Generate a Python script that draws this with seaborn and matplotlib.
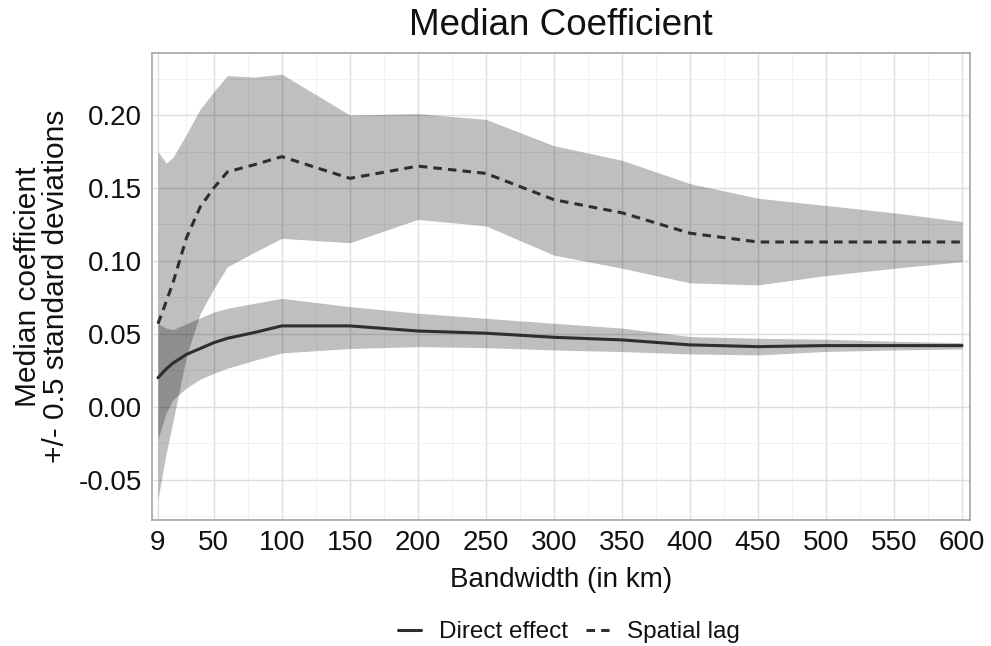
import numpy as np
import pandas as pd
import matplotlib
matplotlib.use("Agg")
import matplotlib.pyplot as plt
import seaborn as sns
from matplotlib.ticker import FixedLocator

# bandwidths (km) at which the models were estimated
bandwidth = [9, 15, 20, 30, 40, 50, 60, 80, 100, 150, 200, 250, 300, 350,
             400, 450, 500, 550, 600]

# direct effect: median and +/- 0.5 sd
direct = [0.020, 0.026, 0.030, 0.036, 0.040, 0.044, 0.047, 0.051, 0.0555,
          0.0555, 0.052, 0.0505, 0.0477, 0.0459, 0.0425, 0.0413, 0.042,
          0.042, 0.042]
direct_hi = [0.057, 0.054, 0.053, 0.057, 0.061, 0.065, 0.0676, 0.071, 0.0744,
             0.0687, 0.0642, 0.0607, 0.0573, 0.054, 0.0482, 0.047, 0.0464,
             0.045, 0.044]
direct_lo = [-0.022, -0.004, 0.005, 0.013, 0.019, 0.023, 0.0265, 0.032, 0.037,
             0.040, 0.0413, 0.0406, 0.039, 0.0379, 0.0363, 0.0356, 0.038,
             0.039, 0.0397]

# spatial lag: median and +/- 0.5 sd
lag = [0.057, 0.072, 0.085, 0.116, 0.137, 0.150, 0.161, 0.166, 0.1715,
       0.1566, 0.165, 0.160, 0.142, 0.133, 0.119, 0.113, 0.113, 0.113, 0.113]
lag_hi = [0.175, 0.167, 0.171, 0.187, 0.204, 0.216, 0.227, 0.226, 0.228,
          0.200, 0.201, 0.197, 0.179, 0.169, 0.153, 0.143, 0.138, 0.133, 0.127]
lag_lo = [-0.063, -0.032, -0.010, 0.035, 0.064, 0.081, 0.096, 0.106, 0.1155,
          0.1125, 0.1285, 0.124, 0.104, 0.095, 0.085, 0.0836, 0.090, 0.095,
          0.0995]

x_ticks = [9, 50, 100, 150, 200, 250, 300, 350, 400, 450, 500, 550, 600]
y_ticks = [-0.05, 0.00, 0.05, 0.10, 0.15, 0.20]

df = pd.DataFrame({
    "bandwidth": bandwidth * 2,
    "coef": direct + lag,
    "lo": direct_lo + lag_lo,
    "hi": direct_hi + lag_hi,
    "effect": ["Direct effect"] * len(bandwidth) + ["Spatial lag"] * len(bandwidth),
})

sns.set_theme(style="whitegrid")
plt.rcParams["font.family"] = ["Liberation Sans", "DejaVu Sans"]

LINE = "#2e2e2e"
LW = 2.2
DASH = (2.8, 2.0)

fig = plt.figure(figsize=(9.91, 6.46), dpi=100)
ax = fig.add_axes([152 / 991, (646 - 520) / 646, (970 - 152) / 991, (520 - 53) / 646])

for eff, sub in df.groupby("effect"):
    ax.fill_between(sub["bandwidth"], sub["lo"], sub["hi"], color="black",
                    alpha=0.25, linewidth=0, zorder=2)

sns.lineplot(data=df, x="bandwidth", y="coef", style="effect",
             dashes={"Direct effect": "", "Spatial lag": DASH},
             color=LINE, linewidth=LW, ax=ax, zorder=3, legend=False)

ax.set_xlim(4.6, 605.8)
ax.set_ylim(-0.0775, 0.2425)
ax.set_xticks(x_ticks)
ax.set_xticklabels([str(t) for t in x_ticks])
ax.set_yticks(y_ticks)
ax.set_yticklabels([f"{t:.2f}" for t in y_ticks])
ax.xaxis.set_minor_locator(FixedLocator([(a + b) / 2 for a, b in zip(x_ticks[:-1], x_ticks[1:])]))
ax.yaxis.set_minor_locator(FixedLocator([-0.075, -0.025, 0.025, 0.075, 0.125, 0.175, 0.225]))

ax.grid(True, which="major", color="#dedede", linewidth=1.0)
ax.grid(True, which="minor", color="#efefef", linewidth=0.6)
ax.set_axisbelow(True)
for s in ax.spines.values():
    s.set_color("#a6a6a6")
    s.set_linewidth(1.2)
ax.tick_params(which="major", length=4, width=1, color="#a6a6a6",
               labelsize=20, labelcolor="#111111", pad=3)
ax.tick_params(which="minor", length=0)

ax.set_xlabel("Bandwidth (in km)", fontsize=20, color="#111111", labelpad=8)
ax.set_ylabel("Median coefficient\n+/- 0.5 standard deviations", fontsize=21.5,
              color="#111111", linespacing=1.0)
ax.yaxis.set_label_coords(-0.1, 0.5)
ax.set_title("Median Coefficient", fontsize=26.5, color="#111111", pad=13)

handles = [plt.Line2D([], [], color=LINE, lw=LW),
           plt.Line2D([], [], color=LINE, lw=LW, dashes=DASH)]
fig.legend(handles, ["Direct effect", "Spatial lag"], loc="center",
           bbox_to_anchor=(569 / 991, 1 - 632 / 646), ncol=2, frameon=False,
           fontsize=17.5, handlelength=0.95, columnspacing=0.75,
           handletextpad=0.75, labelcolor="#111111")

fig.savefig("out.png", dpi=100)
